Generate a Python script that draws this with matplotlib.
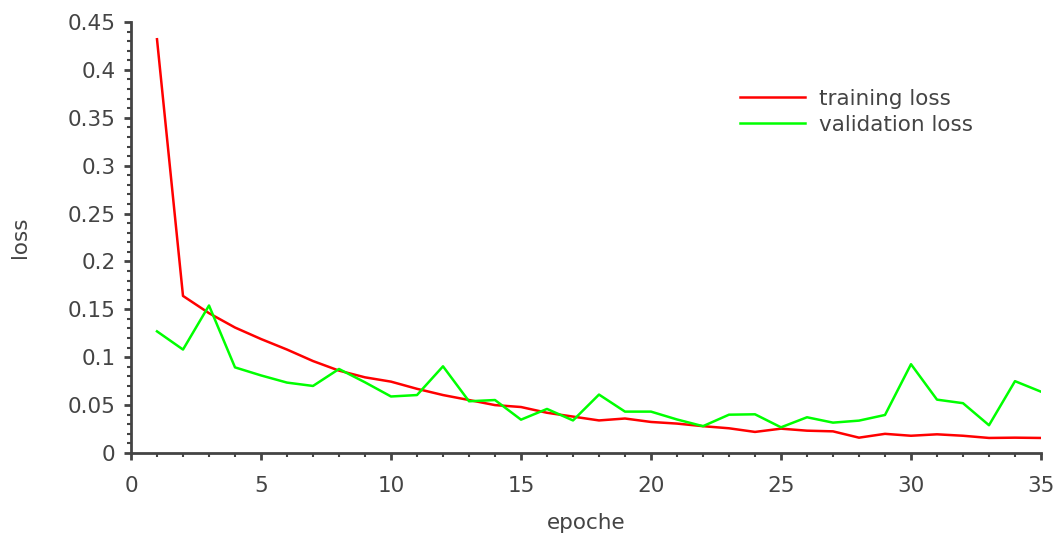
import matplotlib
matplotlib.use("Agg")
import matplotlib.pyplot as plt
from matplotlib.ticker import MultipleLocator, FuncFormatter

epochs = list(range(1, 36))
training_loss = [0.432, 0.164, 0.146, 0.131, 0.119, 0.108, 0.096, 0.086, 0.079, 0.0745,
                 0.067, 0.0605, 0.0553, 0.050, 0.048, 0.042, 0.038, 0.034, 0.036, 0.0324,
                 0.0307, 0.028, 0.0258, 0.022, 0.0254, 0.0233, 0.0226, 0.016, 0.020, 0.018,
                 0.0195, 0.018, 0.0157, 0.016, 0.0157]
validation_loss = [0.127, 0.108, 0.154, 0.0894, 0.081, 0.0735, 0.070, 0.0877, 0.0738, 0.059,
                   0.0605, 0.0905, 0.054, 0.0553, 0.0348, 0.046, 0.034, 0.061, 0.0432, 0.0432,
                   0.035, 0.028, 0.040, 0.0404, 0.0268, 0.0373, 0.0317, 0.0338, 0.0397, 0.0927,
                   0.0557, 0.052, 0.029, 0.075, 0.064]

gray = "#444444"
fs = 15.5

fig = plt.figure(figsize=(10.59, 5.34), dpi=100)
ax = fig.add_axes([0.1237, 0.1517, 0.983 - 0.1237, 0.9588 - 0.1517])

ax.plot(epochs, training_loss, color="#ff0000", lw=1.8, label="training loss")
ax.plot(epochs, validation_loss, color="#00ff00", lw=1.8, label="validation loss")

ax.set_xlim(0, 35)
ax.set_ylim(0, 0.45)
ax.xaxis.set_major_locator(MultipleLocator(5))
ax.xaxis.set_minor_locator(MultipleLocator(1))
ax.yaxis.set_major_locator(MultipleLocator(0.05))
ax.yaxis.set_minor_locator(MultipleLocator(0.01))
ax.yaxis.set_major_formatter(FuncFormatter(lambda v, p: f"{v:.2f}".rstrip("0").rstrip(".") if v != 0 else "0"))

for s in ["top", "right"]:
    ax.spines[s].set_visible(False)
for s in ["left", "bottom"]:
    ax.spines[s].set_color(gray)
    ax.spines[s].set_linewidth(2)

ax.tick_params(which="major", direction="out", length=5, width=2, color=gray,
               labelcolor=gray, labelsize=fs)
ax.tick_params(axis="y", which="major", pad=6)
ax.tick_params(axis="x", which="major", pad=11.5)
ax.tick_params(which="minor", direction="out", length=3, width=1.5, color=gray)

ax.set_xlabel("epoche", fontsize=fs, color=gray, labelpad=12)
ax.set_ylabel("loss", fontsize=fs, color=gray, labelpad=27.5)

leg = ax.legend(loc="upper left", bbox_to_anchor=(0.648, 0.89), frameon=False,
                fontsize=fs, handlelength=3, handletextpad=0.65, labelspacing=0.28)
for t in leg.get_texts():
    t.set_color(gray)

fig.savefig("out.png", dpi=100)
